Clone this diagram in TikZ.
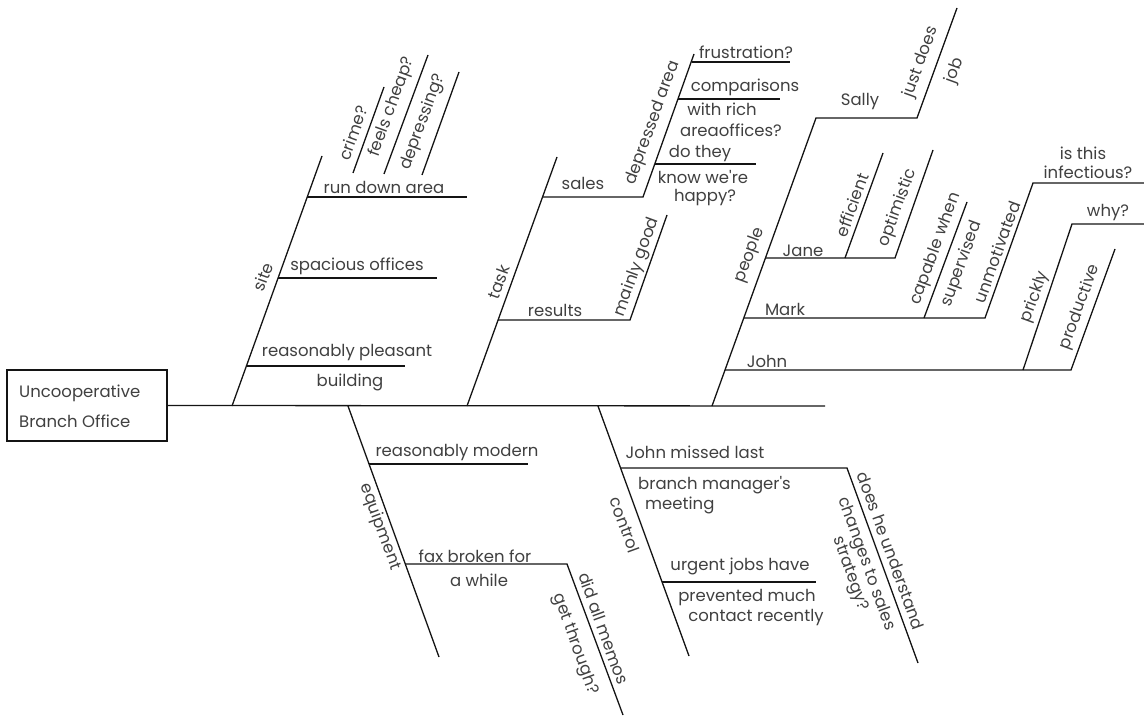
\documentclass[tikz,border=0pt]{standalone}
\usepackage{fontspec}
\setmainfont{Poppins}
\begin{document}
\begin{tikzpicture}[x=1pt,y=-1pt,
  bone/.style={draw=black!92, line width=1.3pt},
  lbl/.style={text=black!75, font=\fontsize{16.5}{19}\selectfont, inner sep=0pt},
  uplbl/.style={lbl, rotate=70},
  dnlbl/.style={lbl, rotate=-70}]
\useasboundingbox (0,0) rectangle (1144,717);

% effect box and main spine
\node[draw=black!92, line width=1.3pt, minimum width=160pt, minimum height=71pt,
      inner sep=0pt] (box) at (87,405.5) {};
\node[lbl, anchor=west] (boxA) at (19,393) {Uncooperative};
\node[lbl, anchor=west] (boxB) at (19,421) {Branch Office};
\coordinate (head) at (825,406);
\draw[bone] (box.east) -- (head);

% ---------- site ----------
\coordinate (s0) at (232,406); \coordinate (s1) at (322,156);
\coordinate (sa0) at (307,197); \coordinate (sa1) at (467,197);
\coordinate (sb0) at (278,278); \coordinate (sb1) at (437,278);
\coordinate (sc0) at (246,366); \coordinate (sc1) at (405,366);
\coordinate (q1a) at (353,173); \coordinate (q1b) at (384,87);
\coordinate (q2a) at (384,174); \coordinate (q2b) at (428,55);
\coordinate (q3a) at (422,175); \coordinate (q3b) at (459,72);
\draw[bone] (s0) -- (s1);
\draw[bone] (sa0) -- (sa1);
\draw[bone] (sb0) -- (sb1);
\draw[bone] (sc0) -- (sc1);
\draw[bone] (q1a) -- (q1b);
\draw[bone] (q2a) -- (q2b);
\draw[bone] (q3a) -- (q3b);
\node[uplbl] (site) at (263,277) {site};
\node[lbl] (rda) at (384,187) {run down area};
\node[lbl] (spo) at (357,266) {spacious offices};
\node[lbl] (rpl) at (347,353) {reasonably pleasant};
\node[lbl] (bld) at (350,382) {building};
\node[uplbl] (crime) at (353,133) {crime?};
\node[uplbl] (cheap) at (392,107) {feels cheap?};
\node[uplbl] (depr) at (423,122) {depressing?};

% ---------- task ----------
\coordinate (t0) at (467,406); \coordinate (t1) at (557,157);
\coordinate (ta0) at (543,197); \coordinate (ta1) at (643,197);
\coordinate (td1) at (694,54);
\coordinate (tf0) at (692,62); \coordinate (tf1) at (790,62);
\coordinate (tc0) at (678,99); \coordinate (tc1) at (780,99);
\coordinate (tk0) at (655,164); \coordinate (tk1) at (756,164);
\coordinate (tr0) at (498,320); \coordinate (tr1) at (630,320);
\coordinate (tm1) at (667,215);
\draw[bone] (t0) -- (t1);
\draw[bone] (ta0) -- (ta1) -- (td1);
\draw[bone] (tf0) -- (tf1);
\draw[bone] (tc0) -- (tc1);
\draw[bone] (tk0) -- (tk1);
\draw[bone] (tr0) -- (tr1) -- (tm1);
\node[uplbl] (task) at (499,282) {task};
\node[lbl] (sales) at (583,183) {sales};
\node[uplbl] (deparea) at (653,123) {depressed area};
\node[lbl] (frus) at (746,52) {frustration?};
\node[lbl] (comp) at (745,87) {comparisons};
\node[lbl] (rich) at (722,109) {with rich};
\node[lbl] (areo) at (731,130) {areaoffices?};
\node[lbl] (dot) at (700,154) {do they};
\node[lbl] (know) at (703,177) {know we\textquotesingle re};
\node[lbl] (happy) at (705,198) {happy?};
\node[lbl] (res) at (555,310) {results};
\node[uplbl] (mgood) at (637,267) {mainly good};

% ---------- people ----------
\coordinate (p0) at (712,406); \coordinate (p1) at (816,118);
\coordinate (ps1) at (917,118); \coordinate (ps2) at (957,8);
\coordinate (pj0) at (765,258); \coordinate (pj1) at (895,258); \coordinate (pj2) at (933,150);
\coordinate (pe0) at (845,258); \coordinate (pe1) at (883,153);
\coordinate (pm0) at (744,318); \coordinate (pm1) at (985,318);
\coordinate (pm2) at (1033,183); \coordinate (pm3) at (1144,183);
\coordinate (pc0) at (924,318); \coordinate (pc1) at (967,202);
\coordinate (pn0) at (725,370); \coordinate (pn1) at (1071,370); \coordinate (pn2) at (1115,249);
\coordinate (pp0) at (1023,370); \coordinate (pp1) at (1072,224); \coordinate (pp2) at (1144,224);
\draw[bone] (p0) -- (p1) -- (ps1) -- (ps2);
\draw[bone] (pj0) -- (pj1) -- (pj2);
\draw[bone] (pe0) -- (pe1);
\draw[bone] (pm0) -- (pm1) -- (pm2) -- (pm3);
\draw[bone] (pc0) -- (pc1);
\draw[bone] (pn0) -- (pn1) -- (pn2);
\draw[bone] (pp0) -- (pp1) -- (pp2);
\node[uplbl] (people) at (750,255) {people};
\node[lbl] (sally) at (860,102) {Sally};
\node[uplbl] (jd1) at (921,62) {just does};
\node[uplbl] (jd2) at (955,71) {job};
\node[lbl] (jane) at (803,251) {Jane};
\node[uplbl] (eff) at (852,205) {efficient};
\node[uplbl] (opt) at (898,208) {optimistic};
\node[lbl] (mark) at (785,309) {Mark};
\node[uplbl] (cap1) at (936,249) {capable when};
\node[uplbl] (cap2) at (962,264) {supervised};
\node[uplbl] (unm) at (997,252) {unmotivated};
\node[lbl] (ist) at (1083,153) {is this};
\node[lbl] (inf) at (1088,172) {infectious?};
\node[lbl] (john) at (767,361) {John};
\node[uplbl] (prick) at (1035,297) {prickly};
\node[uplbl] (prod) at (1080,307) {productive};
\node[lbl] (why) at (1108,213) {why?};

% ---------- equipment ----------
\coordinate (e0) at (348,406); \coordinate (e1) at (439,657);
\coordinate (em0) at (369,464); \coordinate (em1) at (528,464);
\coordinate (ef0) at (405,564); \coordinate (ef1) at (567,564); \coordinate (ef2) at (623,715);
\draw[bone] (e0) -- (e1);
\draw[bone] (em0) -- (em1);
\draw[bone] (ef0) -- (ef1) -- (ef2);
\node[dnlbl] (equip) at (380,527) {equipment};
\node[lbl] (rmod) at (457,453) {reasonably modern};
\node[lbl] (fax1) at (475,556) {fax broken for};
\node[lbl] (fax2) at (479,580) {a while};
\node[dnlbl] (memo1) at (604,628.5) {did all memos};
\node[dnlbl] (memo2) at (575,644) {get through?};

% ---------- control ----------
\coordinate (c0) at (598,406); \coordinate (c1) at (689,656);
\coordinate (cj0) at (620,468); \coordinate (cj1) at (847,468); \coordinate (cj2) at (918,663);
\coordinate (cu0) at (662,582); \coordinate (cu1) at (816,582);
\draw[bone] (c0) -- (c1);
\draw[bone] (cj0) -- (cj1) -- (cj2);
\draw[bone] (cu0) -- (cu1);
\node[dnlbl] (ctrl) at (625,525) {control};
\node[lbl] (jm1) at (695,452) {John missed last};
\node[lbl, anchor=west] (jm2) at (638,485) {branch manager\textquotesingle s};
\node[lbl, anchor=west] (jm3) at (645,505) {meeting};
\node[dnlbl] (und1) at (891,551) {does he understand};
\node[dnlbl] (und2) at (866,564) {changes to sales};
\node[dnlbl] (und3) at (850,574) {strategy?};
\node[lbl] (urg1) at (740,566) {urgent jobs have};
\node[lbl] (urg2) at (747,598) {prevented much};
\node[lbl] (urg3) at (756,618) {contact recently};
\end{tikzpicture}
\end{document}
